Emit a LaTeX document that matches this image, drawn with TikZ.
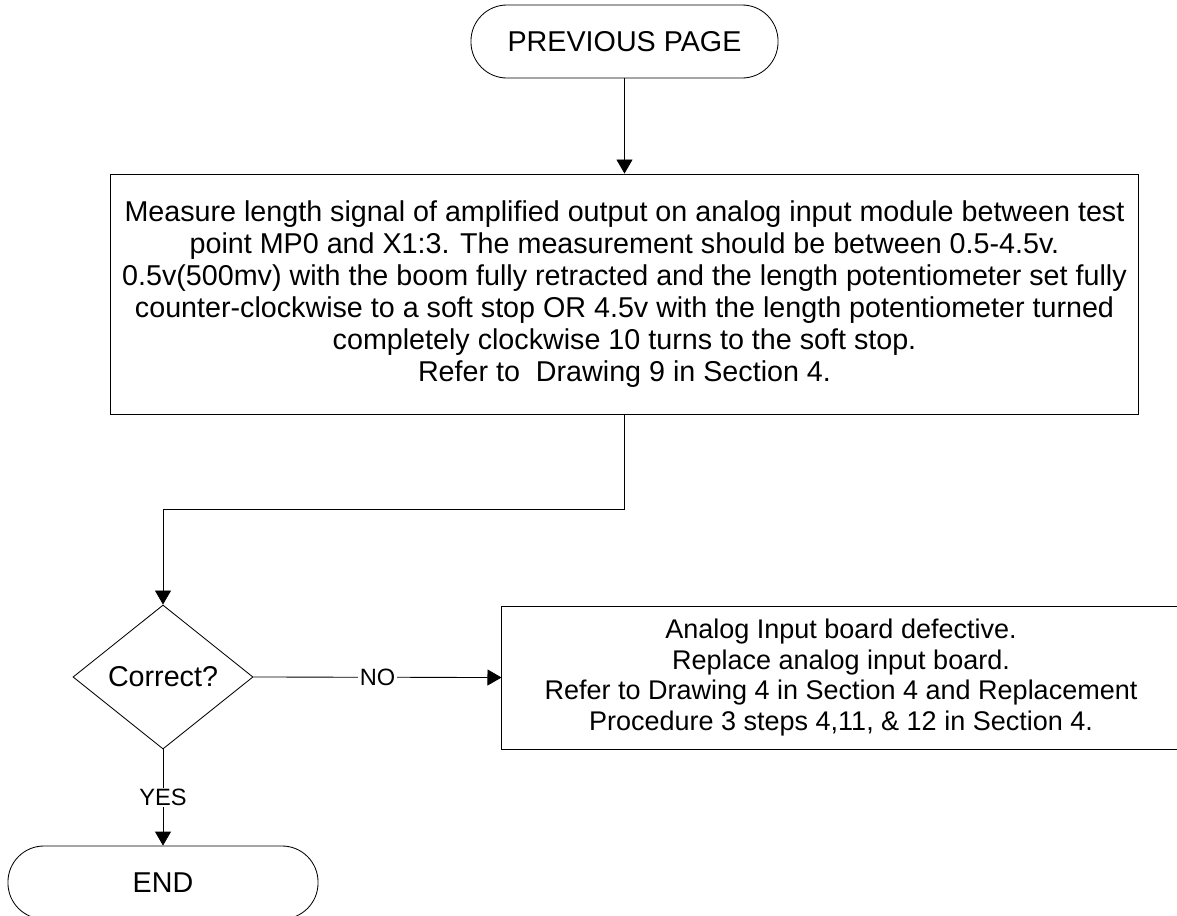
\documentclass[tikz,border=0pt]{standalone}
\usepackage{fontspec}
\setmainfont{Liberation Sans}
\usetikzlibrary{shapes.geometric,arrows.meta}

\begin{document}
\begin{tikzpicture}[x=0.025cm,y=-0.025cm,line width=0.6pt,
	>={Triangle[length=0.35cm,width=0.4cm]},
	every node/.style={font=\fontsize{20.4}{22.8}\selectfont},
	terminal/.style={draw,rectangle,rounded corners=0.9cm,
		minimum height=1.825cm,inner sep=0pt},
	stepbox/.style={draw,rectangle,align=center,inner sep=0pt},
	decision/.style={draw,diamond,minimum width=4.5cm,minimum height=3.6cm,
		inner sep=0pt},
	answer/.style={fill=white,inner sep=1pt,
		font=\fontsize{16.8}{19}\selectfont}]
\useasboundingbox (0,0) rectangle (1177,915);

\node[terminal,minimum width=7.675cm] (prev) at (624.5,41.5) {PREVIOUS PAGE};

\node[stepbox,minimum width=25.675cm,minimum height=6cm] (measure) at (624.5,294)
	{Measure length signal of amplified output on analog input module between test\\
	point MP0 and X1:3. The measurement should be between 0.5-4.5v.\\
	0.5v(500mv) with the boom fully retracted and the length potentiometer set fully\\
	counter-clockwise to a soft stop OR 4.5v with the length potentiometer turned\\
	completely clockwise 10 turns to the soft stop.\\
	Refer to\ \ Drawing 9 in Section 4.};

\node[decision] (check) at (163,677) {Correct?};

\node[stepbox,minimum width=16.95cm,minimum height=3.575cm,
	font=\fontsize{19.2}{22}\selectfont] (fail) at (841,677.5)
	{Analog Input board defective.\\
	Replace analog input board.\\
	Refer to Drawing 4 in Section 4 and Replacement\\
	Procedure 3 steps 4,11, \& 12 in Section 4.};

\node[terminal,minimum width=7.75cm] (done) at (163,882.5) {END};

\draw[->] (prev) -- (measure);
\draw[->] (measure.south) -- ++(0,95) -| (check.north);
\draw[->] (check.east) -- node[answer] {NO} (fail.west);
\draw[->] (check.south) -- node[answer] {YES} (done.north);

\end{tikzpicture}
\end{document}
